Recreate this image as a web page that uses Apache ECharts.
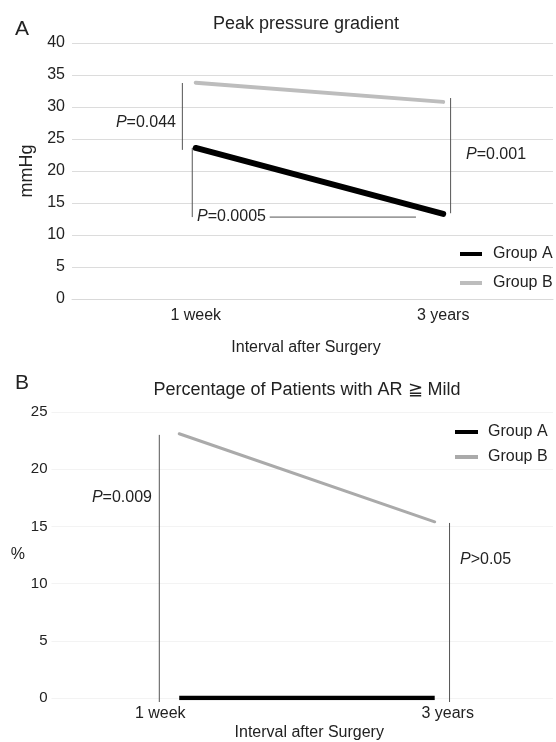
<!DOCTYPE html>
<html>
<head>
<meta charset="utf-8">
<script src="https://cdn.jsdelivr.net/npm/echarts@6/dist/echarts.min.js"></script>
<style>html,body{margin:0;padding:0;background:#fff;overflow:hidden;}#c{width:556px;height:742px;}</style>
</head>
<body>
<div id="c"></div>
<script>
// ---- data ----
const categories = ['1 week', '3 years'];
const pressureGroupA = [23.6, 13.3];
const pressureGroupB = [33.8, 30.8];
const arGroupA = [0, 0];
const arGroupB = [23.1, 15.4];
// significance brackets: [x (category index units), y (data units)]
const pressureBrackets = [
  [[-0.054, 33.75], [-0.054, 23.3]],
  [[-0.014, 23.6], [-0.014, 12.8]],
  [[0.299, 12.8], [0.890, 12.8]],
  [[1.030, 31.4], [1.030, 13.4]]
];
const arBrackets = [
  [[-0.078, 23.0], [-0.078, -0.35]],
  [[1.058, 15.3], [1.058, -0.35]]
];
const pressureTitle = 'Peak pressure gradient';
const arTitle = 'Percentage of Patients with AR \u2267 Mild';

const FONT = '"Liberation Sans", Arial, sans-serif';
const TXT = '#222';
const chart = echarts.init(document.getElementById('c'), null, {renderer: 'canvas', width: 556, height: 742});

function pts(vals) { return categories.map((c, i) => [i, vals[i]]); }
function catLabel(v) {
  const r = Math.round(v);
  return (Math.abs(v - r) < 1e-6 && r >= 0 && r < categories.length) ? categories[r] : '';
}
function bracketSeries(list, xi, yi) {
  return list.map((d, i) => ({
    type: 'line', name: 'bracket' + xi + '_' + i, xAxisIndex: xi, yAxisIndex: yi,
    data: d, symbol: 'none', clip: false, silent: true, z: 1,
    lineStyle: {color: '#555', width: 1}
  }));
}
function ptext(x, y, body, align) {
  return {
    type: 'text', x: x, y: y, silent: true,
    style: {
      text: '{i|P}' + body, align: align, verticalAlign: 'middle',
      fontSize: 16, fontFamily: FONT, fill: TXT,
      rich: {i: {fontStyle: 'italic', fontSize: 16, fontFamily: FONT, fill: TXT}}
    }
  };
}
function plain(x, y, t, size, align) {
  return {type: 'text', x: x, y: y, silent: true,
    style: {text: t, align: align, verticalAlign: 'middle', fontSize: size, fontFamily: FONT, fill: TXT}};
}

const option = {
  animation: false,
  textStyle: {fontFamily: FONT, color: TXT},
  grid: [
    {left: 72, top: 43, width: 484, height: 256},
    {left: 51.5, top: 412, width: 504.5, height: 286}
  ],
  xAxis: [
    {gridIndex: 0, type: 'value', min: -0.5, max: 1.4438, interval: 0.5,
      splitLine: {show: false},
      axisLine: {show: true, onZero: false, lineStyle: {color: '#d9d9d9'}}, axisTick: {show: false},
      axisLabel: {fontSize: 16, color: TXT, margin: 9, formatter: catLabel, showMinLabel: true, showMaxLabel: true},
      name: 'Interval after Surgery', nameLocation: 'middle', nameGap: 41,
      nameTextStyle: {fontSize: 16, color: TXT, padding: [0, 13, 0, 0]}},
    {gridIndex: 1, type: 'value', min: -0.5, max: 1.463, interval: 0.5,
      splitLine: {show: false},
      axisLine: {show: false}, axisTick: {show: false},
      axisLabel: {fontSize: 16, color: TXT, margin: 8,
        formatter: (v) => {
          const t = catLabel(v);
          if (!t) return '';
          return Math.round(v) === 0 ? '{a|' + t + '}' : '{b|' + t + '}';
        },
        rich: {a: {fontSize: 16, color: TXT, padding: [0, 38, 0, 0]},
               b: {fontSize: 16, color: TXT, padding: [0, 0, 0, 26]}}},
      name: 'Interval after Surgery', nameLocation: 'middle', nameGap: 27,
      nameTextStyle: {fontSize: 16, color: TXT, padding: [0, 0, 0, 14]}}
  ],
  yAxis: [
    {gridIndex: 0, type: 'value', min: 0, max: 40, interval: 5,
      axisLine: {show: false}, axisTick: {show: false},
      splitLine: {lineStyle: {color: '#dcdcdc'}},
      axisLabel: {fontSize: 16, color: TXT, margin: 7},
      name: 'mmHg', nameLocation: 'middle', nameRotate: 90, nameGap: 36,
      nameTextStyle: {fontSize: 18, color: TXT}},
    {gridIndex: 1, type: 'value', min: 0, max: 25, interval: 5,
      axisLine: {show: false}, axisTick: {show: false},
      splitLine: {lineStyle: {color: '#f3f3f3'}},
      axisLabel: {fontSize: 15, color: TXT, margin: 4},
      name: '%', nameLocation: 'middle', nameRotate: 0, nameGap: 26,
      nameTextStyle: {fontSize: 16, color: TXT}}
  ],
  legend: [
    {left: 460, top: 246, padding: 0, orient: 'vertical', itemWidth: 22, itemHeight: 4, itemGap: 13,
      selectedMode: false, textStyle: {fontSize: 16, color: TXT, padding: [0, 0, 0, 6]},
      data: [{name: 'Group A', icon: 'rect'}, {name: 'Group B', icon: 'rect'}]},
    {left: 455, top: 424, padding: 0, orient: 'vertical', itemWidth: 23, itemHeight: 4, itemGap: 9,
      selectedMode: false, textStyle: {fontSize: 16, color: TXT, padding: [0, 0, 0, 5]},
      data: [{name: 'Group A', icon: 'rect', itemStyle: {color: '#000'}},
             {name: 'Group B', icon: 'rect', itemStyle: {color: '#aaaaaa'}}]}
  ],
  series: [
    {type: 'line', name: 'Group A', xAxisIndex: 0, yAxisIndex: 0, data: pts(pressureGroupA),
      symbol: 'none', z: 3, color: '#000', lineStyle: {color: '#000', width: 6, cap: 'round'}},
    {type: 'line', name: 'Group B', xAxisIndex: 0, yAxisIndex: 0, data: pts(pressureGroupB),
      symbol: 'none', z: 3, color: '#bdbdbd', lineStyle: {color: '#bdbdbd', width: 4, cap: 'round'}},
    {type: 'line', name: 'Group A', xAxisIndex: 1, yAxisIndex: 1, data: pts(arGroupA),
      symbol: 'none', z: 3, color: '#000', lineStyle: {color: '#000', width: 4.5}},
    {type: 'line', name: 'Group B', xAxisIndex: 1, yAxisIndex: 1, data: pts(arGroupB),
      symbol: 'none', z: 3, color: '#aaaaaa', lineStyle: {color: '#aaaaaa', width: 3, cap: 'round'}}
  ].concat(bracketSeries(pressureBrackets, 0, 0), bracketSeries(arBrackets, 1, 1)),
  graphic: [
    plain(15, 29, 'A', 21, 'left'),
    plain(15, 383, 'B', 21, 'left'),
    plain(306, 24, pressureTitle, 18, 'center'),
    plain(307, 390, arTitle, 18, 'center'),
    ptext(176, 123, '=0.044', 'right'),
    ptext(197, 217, '=0.0005', 'left'),
    ptext(466, 155, '=0.001', 'left'),
    ptext(152, 498, '=0.009', 'right'),
    ptext(460, 560, '>0.05', 'left')
  ]
};
chart.setOption(option);
</script>
</body>
</html>
